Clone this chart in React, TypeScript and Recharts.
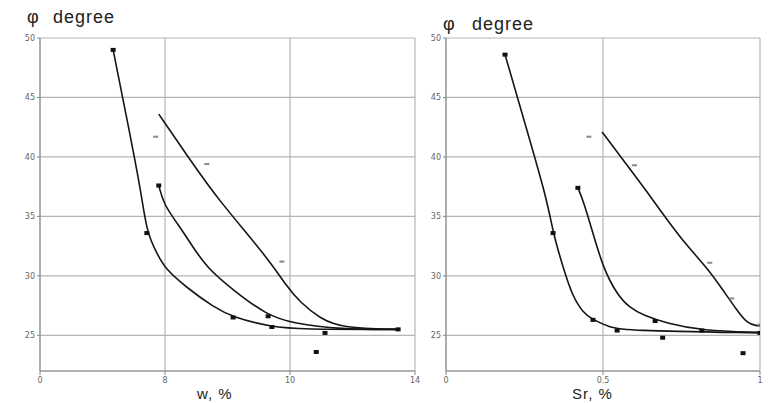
import React from 'react';
import { ComposedChart, Line, Scatter, XAxis, YAxis, CartesianGrid } from 'recharts';

// left panel: friction angle vs moisture w, %
const wTicks = [6, 8, 10, 12];
const wTickLabels = ['0', '8', '10', '14'];
const phiTicks = [25, 30, 35, 40, 45, 50];

const wCurve1 = [
  { x: 7.17, y: 49.0 }, { x: 7.41, y: 42.7 }, { x: 7.62, y: 37.0 }, { x: 7.71, y: 33.6 }, { x: 7.87, y: 31.9 },
  { x: 8.0, y: 30.6 }, { x: 8.35, y: 29.0 }, { x: 8.77, y: 27.4 }, { x: 9.09, y: 26.5 },
  { x: 9.71, y: 25.7 }, { x: 10.16, y: 25.5 }, { x: 11.73, y: 25.5 },
];
const wCurve2 = [
  { x: 7.9, y: 37.6 }, { x: 7.98, y: 36.0 }, { x: 8.2, y: 34.4 }, { x: 8.45, y: 32.4 }, { x: 8.67, y: 30.7 },
  { x: 9.09, y: 28.8 }, { x: 9.63, y: 26.7 }, { x: 10.05, y: 26.0 }, { x: 10.8, y: 25.5 }, { x: 11.73, y: 25.5 },
];
const wCurve3 = [
  { x: 7.9, y: 43.6 }, { x: 8.37, y: 40.0 }, { x: 8.85, y: 36.4 }, { x: 9.63, y: 31.6 }, { x: 9.95, y: 29.1 },
  { x: 10.16, y: 27.8 }, { x: 10.48, y: 26.4 }, { x: 10.85, y: 25.6 }, { x: 11.73, y: 25.5 },
];
const wMarks = [
  { x: 7.17, y: 49.0 }, { x: 7.71, y: 33.6 }, { x: 7.9, y: 37.6 }, { x: 9.09, y: 26.5 },
  { x: 9.65, y: 26.6 }, { x: 9.71, y: 25.7 }, { x: 10.56, y: 25.2 }, { x: 10.42, y: 23.6 }, { x: 11.73, y: 25.5 },
];
const wDashes = [{ x: 7.85, y: 41.7 }, { x: 8.67, y: 39.4 }, { x: 9.87, y: 31.2 }];

// right panel: friction angle vs degree of saturation Sr
const srTicks = [0, 0.5, 1];
const srCurve1 = [
  { x: 0.188, y: 48.6 }, { x: 0.255, y: 42.5 }, { x: 0.322, y: 36.4 }, { x: 0.341, y: 33.6 }, { x: 0.373, y: 30.7 },
  { x: 0.401, y: 28.4 }, { x: 0.436, y: 26.9 }, { x: 0.468, y: 26.3 }, { x: 0.522, y: 25.7 },
  { x: 0.564, y: 25.4 }, { x: 1.0, y: 25.2 },
];
const srCurve2 = [
  { x: 0.42, y: 37.4 }, { x: 0.436, y: 36.4 }, { x: 0.468, y: 33.6 }, { x: 0.5, y: 30.7 },
  { x: 0.545, y: 28.4 }, { x: 0.586, y: 27.3 }, { x: 0.627, y: 26.7 }, { x: 0.704, y: 26.0 },
  { x: 0.815, y: 25.4 }, { x: 1.0, y: 25.25 },
];
const srCurve3 = [
  { x: 0.497, y: 42.1 }, { x: 0.578, y: 39.25 }, { x: 0.659, y: 36.4 }, { x: 0.745, y: 33.2 }, { x: 0.831, y: 30.7 },
  { x: 0.882, y: 28.8 }, { x: 0.927, y: 27.1 }, { x: 0.959, y: 26.0 }, { x: 0.99, y: 25.8 }, { x: 1.0, y: 25.8 },
];
const srMarks = [
  { x: 0.188, y: 48.6 }, { x: 0.341, y: 33.6 }, { x: 0.42, y: 37.4 }, { x: 0.468, y: 26.3 },
  { x: 0.545, y: 25.4 }, { x: 0.666, y: 26.2 }, { x: 0.69, y: 24.8 }, { x: 0.815, y: 25.4 },
  { x: 0.946, y: 23.5 }, { x: 1.0, y: 25.2 },
];
const srDashes = [{ x: 0.455, y: 41.7 }, { x: 0.6, y: 39.3 }, { x: 0.84, y: 31.1 }, { x: 0.91, y: 28.1 }, { x: 1.0, y: 25.9 }];

const tickStyle = { fontSize: 8, fill: '#666', fontFamily: 'DejaVu Sans' };

const square = (props: any) => (
  <rect x={props.cx - 2.5} y={props.cy - 2} width={5} height={4} fill="#111" />
);
const dash = (props: any) => (
  <rect x={props.cx - 2.5} y={props.cy - 1} width={5} height={2} fill="#888" />
);

const curve = (data: any[], key: string) => (
  <Line
    key={key}
    data={data}
    dataKey="y"
    type="basis"
    stroke="#151515"
    strokeWidth={1.6}
    dot={false}
    isAnimationActive={false}
  />
);

const Panel = ({ width, margin, yWidth, xTicks, xDomain, xFmt, curves, marks, dashes }: any) => (
  <ComposedChart width={width} height={403} margin={margin}>
    <CartesianGrid stroke="#b5b5b5" strokeWidth={1.2} />
    <XAxis
      type="number"
      dataKey="x"
      domain={xDomain}
      ticks={xTicks}
      tickFormatter={xFmt}
      height={32}
      tick={tickStyle}
      tickSize={4}
      stroke="#888"
      allowDataOverflow
    />
    <YAxis
      type="number"
      dataKey="y"
      domain={[22, 50]}
      ticks={phiTicks}
      width={yWidth}
      tick={tickStyle}
      tickSize={3}
      stroke="#888"
      allowDataOverflow
    />
    {curves.map((c: any[], i: number) => curve(c, 'c' + i))}
    <Scatter data={marks} dataKey="y" shape={square} isAnimationActive={false} />
    <Scatter data={dashes} dataKey="y" shape={dash} isAnimationActive={false} />
  </ComposedChart>
);

const labelStyle: React.CSSProperties = {
  position: 'absolute',
  fontFamily: 'Liberation Sans, Arial, sans-serif',
  color: '#222',
  whiteSpace: 'nowrap',
  lineHeight: 1,
};

export default function App() {
  return (
    <div style={{ position: 'absolute', left: 0, top: 0, width: 783, height: 403, background: '#fff', overflow: 'hidden' }}>
      <div style={{ position: 'absolute', left: 0, top: 0 }}>
        <Panel
          width={430}
          margin={{ top: 38, right: 15, left: 0, bottom: 0 }}
          yWidth={40}
          xTicks={wTicks}
          xDomain={[6, 12]}
          xFmt={(v: number) => wTickLabels[wTicks.indexOf(v)]}
          curves={[wCurve1, wCurve2, wCurve3]}
          marks={wMarks}
          dashes={wDashes}
        />
      </div>
      <div style={{ position: 'absolute', left: 415, top: 0 }}>
        <Panel
          width={368}
          margin={{ top: 38, right: 23, left: 0, bottom: 0 }}
          yWidth={31}
          xTicks={srTicks}
          xDomain={[0, 1]}
          xFmt={(v: number) => String(v)}
          curves={[srCurve1, srCurve2, srCurve3]}
          marks={srMarks}
          dashes={srDashes}
        />
      </div>
      <div style={{ ...labelStyle, left: 27, top: 8, fontSize: 18 }}>φ</div>
      <div style={{ ...labelStyle, left: 53, top: 8, fontSize: 18, letterSpacing: 1 }}>degree</div>
      <div style={{ ...labelStyle, left: 443, top: 15, fontSize: 18 }}>φ</div>
      <div style={{ ...labelStyle, left: 472, top: 15, fontSize: 18, letterSpacing: 1 }}>degree</div>
      <div style={{ ...labelStyle, left: 197, top: 386, fontSize: 15, letterSpacing: 1 }}>w, %</div>
      <div style={{ ...labelStyle, left: 572, top: 386, fontSize: 15, letterSpacing: 1 }}>Sr, %</div>
    </div>
  );
}
